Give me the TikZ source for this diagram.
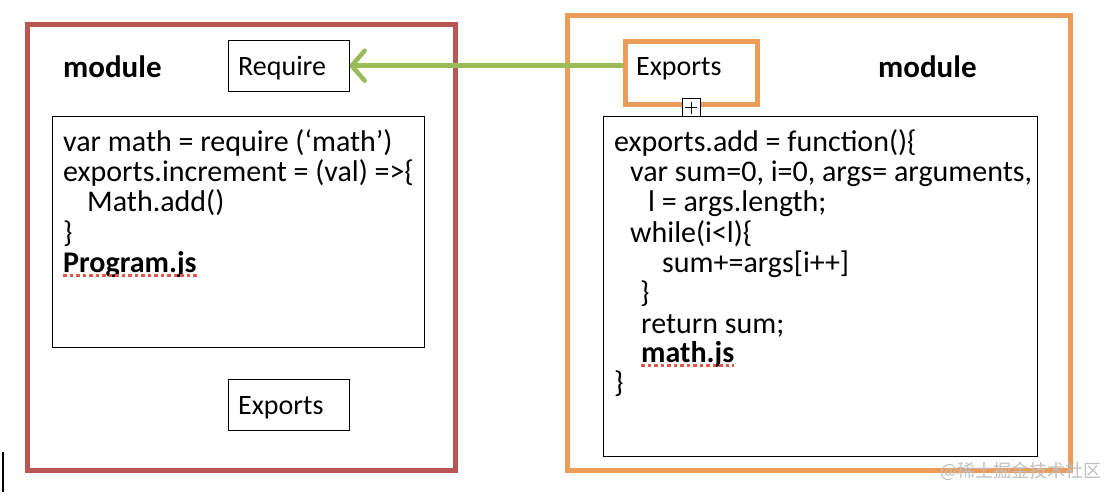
\documentclass[tikz,border=0pt]{standalone}
\usepackage{fontspec}
\setmainfont{Carlito}
\newfontfamily\cjkfont{Noto Sans CJK SC}
\usetikzlibrary{positioning,arrows.meta}
\definecolor{modred}{RGB}{183,86,82}
\definecolor{modorange}{RGB}{234,156,88}
\definecolor{linkgreen}{RGB}{155,187,89}
\definecolor{spellred}{RGB}{228,86,72}
\newcommand\firstline{\rule{0pt}{24pt}}
\tikzset{
  modbox/.style={line width=4.5pt, inner sep=0pt, anchor=north west},
  portbox/.style={draw, thin, inner sep=0pt, minimum width=121pt, minimum height=51pt, anchor=north west},
  codebox/.style={draw, thin, inner sep=0pt, anchor=north west},
  codetext/.style={align=left, inner sep=0pt, anchor=north west, font=\fontsize{30}{30.3}\selectfont},
  codename/.style={inner sep=0pt, anchor=base west, font=\fontsize{30}{30}\selectfont\bfseries},
  spellline/.style={spellred, line width=3pt, dash pattern=on 3.5pt off 3pt}
}
\begin{document}
\begin{tikzpicture}[x=1pt, y=-1pt]
\useasboundingbox (0,0) rectangle (1118,498);
% the two modules
\node[modbox, draw=modred, minimum width=428pt, minimum height=446pt] (progmod) at (25,22) {};
\node[modbox, draw=modorange, minimum width=503pt, minimum height=455pt] (mathmod) at (565,13) {};
\node[anchor=base west, font=\fontsize{31}{31}\selectfont\bfseries, inner sep=0pt] (progtitle) at (63,77) {module};
\node[anchor=base west, font=\fontsize{31}{31}\selectfont\bfseries, inner sep=0pt] (mathtitle) at (878,77) {module};

% Program.js side
\node[portbox] (require) at (228,40) {};
\node[anchor=base west, inner sep=0pt, font=\fontsize{28}{28}\selectfont] (requiretext) at (238,75) {Require};
\node[codebox, minimum width=372pt, minimum height=231pt] (progbox) at (52,116) {};
\node[codetext] (progcode) at (63,127) {\firstline var math = require (‘math’)\\
exports.increment = (val) =>\{\\
\hspace*{24pt}Math.add()\\
\}};
\node[codename] (progname) at (63,272) {Program.js};
\draw[spellline] ([yshift=-3.5pt]progname.base west) -- ([yshift=-3.5pt]progname.base east);
\node[portbox] (progexports) at (228,379) {};
\node[anchor=base west, inner sep=0pt, font=\fontsize{28}{28}\selectfont] (progexportstext) at (238,414) {Exports};

% math.js side
\node[portbox, draw=modorange, line width=4.5pt, minimum width=132pt, minimum height=63pt] (mathexports) at (623,39) {};
\node[anchor=base west, inner sep=0pt, font=\fontsize{28}{28}\selectfont] (mathexportstext) at (636,75) {Exports};
\node[codebox, minimum width=434pt, minimum height=340pt] (mathbox) at (603,116) {};
\node[draw, thin, fill=white, inner sep=0pt, minimum size=18pt] (expander) at ([yshift=-1pt]mathexports.south) {};
\draw[thin] ([xshift=-6pt]expander.center) -- ([xshift=6pt]expander.center)
  ([yshift=-6pt]expander.center) -- ([yshift=6pt]expander.center);
\node[codetext] (mathcode) at (614,127) {\firstline exports.add = function()\{\\
\hspace*{16pt}var sum=0, i=0, args= arguments,\\
\hspace*{34pt}l = args.length;\\
\hspace*{16pt}while(i<l)\{\\
\hspace*{48pt}sum+=args[i++]\\
\hspace*{26pt}\}\\
\hspace*{27pt}return sum;};
\node[codename] (mathname) at (641,362) {math.js};
\draw[spellline] ([yshift=-3.5pt]mathname.base west) -- ([yshift=-3.5pt]mathname.base east);
\node[codetext, anchor=base west] (mathclose) at (614,392) {\}};

% the link
\draw[linkgreen, line width=4.5pt, -{Straight Barb[length=13pt, width=30pt, round]}] (require.east -| mathexports.west) -- (require.east);

% cursor and watermark
\draw[line width=1.2pt] (3,452) -- (3,492);
\node[anchor=base east, inner sep=0pt, text=black!25, font=\cjkfont\fontsize{18}{18}\selectfont] (mark) at (1102,477) {@稀土掘金技术社区};
\end{tikzpicture}
\end{document}
